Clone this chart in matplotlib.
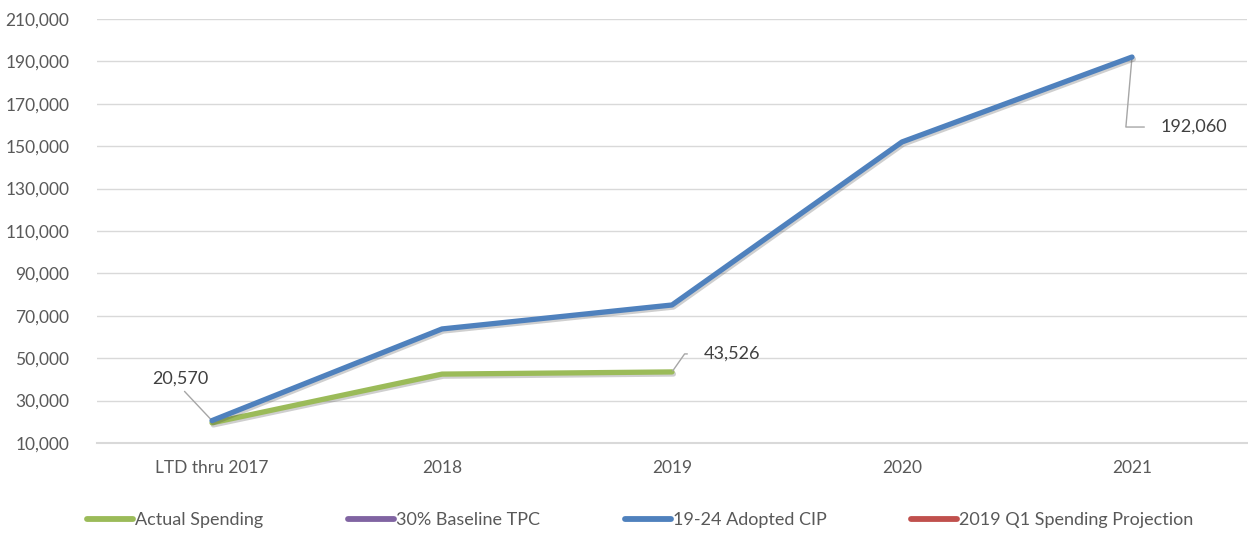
import numpy as np
import matplotlib
matplotlib.use('Agg')
import matplotlib.pyplot as plt
import matplotlib.patheffects as pe
from matplotlib.ticker import FuncFormatter

categories = ['LTD thru 2017', '2018', '2019', '2020', '2021']
actual_spending = [19500, 42500, 43526]
adopted_cip = [20570, 63800, 75100, 152000, 192060]
baseline_tpc = []
q1_projection = []

colors = {'actual': '#9BBB59', 'baseline': '#8064A2', 'cip': '#4F81BD', 'q1': '#C0504D'}
txt = '#595959'

plt.rcParams['font.family'] = ['Lato', 'DejaVu Sans']

fig = plt.figure(figsize=(12.48, 5.33), dpi=100)
ax = fig.add_axes([97 / 1248, 90 / 533, 1150 / 1248, 424 / 533])

shadow = [pe.SimpleLineShadow(offset=(1.0, -1.5), alpha=0.25, shadow_color='#404040'), pe.Normal()]
x = np.arange(len(categories))
ax.plot(x[:len(actual_spending)], actual_spending, color=colors['actual'], lw=3.8,
        solid_capstyle='round', label='Actual Spending', path_effects=shadow, zorder=3)
ax.plot(x[:len(baseline_tpc)], baseline_tpc, color=colors['baseline'], lw=3.8,
        solid_capstyle='round', label='30% Baseline TPC')
ax.plot(x, adopted_cip, color=colors['cip'], lw=3.8, solid_capstyle='round',
        label='19-24 Adopted CIP', path_effects=shadow, zorder=4)
ax.plot(x[:len(q1_projection)], q1_projection, color=colors['q1'], lw=3.8,
        solid_capstyle='round', label='2019 Q1 Spending Projection')

ax.set_xlim(-0.5, len(categories) - 0.5)
ax.set_ylim(10000, 210000)
ax.set_yticks(np.arange(10000, 210001, 20000))
ax.yaxis.set_major_formatter(FuncFormatter(lambda v, p: '{:,.0f}'.format(v)))
ax.set_xticks(x)
ax.set_xticklabels(categories)
ax.tick_params(axis='both', length=0, labelsize=12.5, colors=txt)
ax.tick_params(axis='x', pad=12)
ax.tick_params(axis='y', pad=20)
ax.grid(axis='y', color='#d9d9d9', lw=1)
ax.set_axisbelow(True)
for s in ['top', 'right', 'left']:
    ax.spines[s].set_visible(False)
ax.spines['bottom'].set_color('#d9d9d9')
ax.spines['bottom'].set_linewidth(1.5)

lead = dict(arrowstyle='-', color='#a6a6a6', lw=1)
px = 0.72
ax.annotate('{:,}'.format(adopted_cip[0]), xy=(x[0], adopted_cip[0]),
            xytext=(-32 * px, 42 * px), textcoords='offset points', ha='center', va='center',
            fontsize=13, color='#404040',
            arrowprops=dict(lead, relpos=(0.5, 0.0), shrinkA=2, shrinkB=1))
ax.annotate('{:,}'.format(actual_spending[-1]), xy=(x[len(actual_spending) - 1], actual_spending[-1]),
            xytext=(32 * px, 18 * px), textcoords='offset points', ha='left', va='center',
            fontsize=13, color='#404040',
            arrowprops=dict(lead, relpos=(0.0, 0.5), shrinkA=10, shrinkB=1,
                            connectionstyle='angle,angleA=0,angleB=55,rad=0'))
ax.annotate('{:,}'.format(adopted_cip[-1]), xy=(x[-1], adopted_cip[-1]),
            xytext=(29 * px, -70 * px), textcoords='offset points', ha='left', va='center',
            fontsize=13, color='#404040',
            arrowprops=dict(lead, relpos=(0.0, 0.5), shrinkA=10, shrinkB=1,
                            connectionstyle='angle,angleA=0,angleB=85,rad=0'))

leg = fig.legend(loc='center left', bbox_to_anchor=(80 / 1248, 1 - 520 / 533), ncol=4,
                 frameon=False, fontsize=13, handlelength=2.55, handletextpad=0.1,
                 columnspacing=4.7, borderaxespad=0)
for t in leg.get_texts():
    t.set_color(txt)
for h in leg.legend_handles:
    h.set_linewidth(4.2)
    h.set_path_effects([])

fig.savefig('out.png', dpi=100)
